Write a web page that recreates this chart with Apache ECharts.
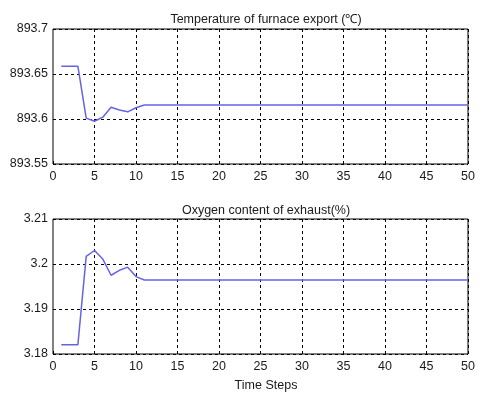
<!DOCTYPE html>
<html>
<head>
<meta charset="utf-8">
<script src="https://cdn.jsdelivr.net/npm/echarts@6/dist/echarts.min.js"></script>
<style>
  html, body { margin: 0; padding: 0; background: #fff; }
  #chart { width: 482px; height: 396px; }
</style>
</head>
<body>
<div id="chart"></div>
<script>
// time steps 1..50
var steps = [];
for (var i = 1; i <= 50; i++) steps.push(i);

// furnace export temperature (steps 1..11, then flat)
var tempHead = [893.6585, 893.6585, 893.6585, 893.601, 893.5975, 893.602, 893.613, 893.610, 893.608, 893.6125, 893.6156];
var tempFlat = 893.6156;

// oxygen content of exhaust (steps 1..11, then flat)
var oxyHead = [3.18207, 3.18207, 3.18207, 3.2017, 3.2030, 3.2011, 3.1975, 3.1986, 3.1993, 3.1972, 3.19644];
var oxyFlat = 3.19644;

var xTicks = { min: 0, max: 50, interval: 5 };
var tempTicks = { min: 893.55, max: 893.7, interval: 0.05 };
var oxyTicks = { min: 3.18, max: 3.21, interval: 0.01 };

function pairs(head, flat) {
  return steps.map(function (s, k) {
    return [s, k < head.length ? head[k] : flat];
  });
}

var font = 'Liberation Sans, Arial, sans-serif';
var lineColor = '#6464e6';
var textColor = '#1a1a1a';

function xAxisCfg(idx) {
  return {
    gridIndex: idx, type: 'value',
    min: xTicks.min, max: xTicks.max, interval: xTicks.interval,
    axisLine: { show: false },
    axisTick: { show: true, inside: true, length: 3, lineStyle: { color: '#000' } },
    axisLabel: { color: textColor, fontFamily: font, fontSize: 12.5, margin: 6 },
    splitLine: { show: true, lineStyle: { color: '#000', type: [3, 3], width: 1 } }
  };
}
function yAxisCfg(idx, t) {
  return {
    gridIndex: idx, type: 'value',
    min: t.min, max: t.max, interval: t.interval,
    axisLine: { show: true, lineStyle: { color: '#808080', width: 1 } },
    axisTick: { show: true, inside: true, length: 3, lineStyle: { color: '#000' } },
    axisLabel: {
      color: textColor, fontFamily: font, fontSize: 12.5, margin: 5,
      formatter: function (v) { return String(parseFloat(v.toFixed(3))); }
    },
    splitLine: { show: true, lineStyle: { color: '#000', type: [3, 3], width: 1 } }
  };
}

var chart = echarts.init(document.getElementById('chart'));
chart.setOption({
  animation: false,
  backgroundColor: '#fff',
  title: [
    { text: 'Temperature of furnace export (\u2103)', left: 261, top: 8, textAlign: 'center',
      textStyle: { color: textColor, fontFamily: font, fontSize: 12.5, fontWeight: 'normal' } },
    { text: 'Oxygen content of exhaust(%)', left: 261, top: 199, textAlign: 'center',
      textStyle: { color: textColor, fontFamily: font, fontSize: 12.5, fontWeight: 'normal' } },
    { text: 'Time Steps', left: 261, top: 374, textAlign: 'center',
      textStyle: { color: textColor, fontFamily: font, fontSize: 12.5, fontWeight: 'normal' } }
  ],
  grid: [
    { left: 53, right: 14, top: 29, height: 135, show: true, borderColor: '#000', borderWidth: 1, backgroundColor: '#fff' },
    { left: 53, right: 14, top: 219, height: 135, show: true, borderColor: '#000', borderWidth: 1, backgroundColor: '#fff' }
  ],
  xAxis: [xAxisCfg(0), xAxisCfg(1)],
  yAxis: [yAxisCfg(0, tempTicks), yAxisCfg(1, oxyTicks)],
  series: [
    { type: 'line', xAxisIndex: 0, yAxisIndex: 0, data: pairs(tempHead, tempFlat),
      showSymbol: false, lineStyle: { color: lineColor, width: 1.5 } },
    { type: 'line', xAxisIndex: 1, yAxisIndex: 1, data: pairs(oxyHead, oxyFlat),
      showSymbol: false, lineStyle: { color: lineColor, width: 1.5 } }
  ]
});
</script>
</body>
</html>
